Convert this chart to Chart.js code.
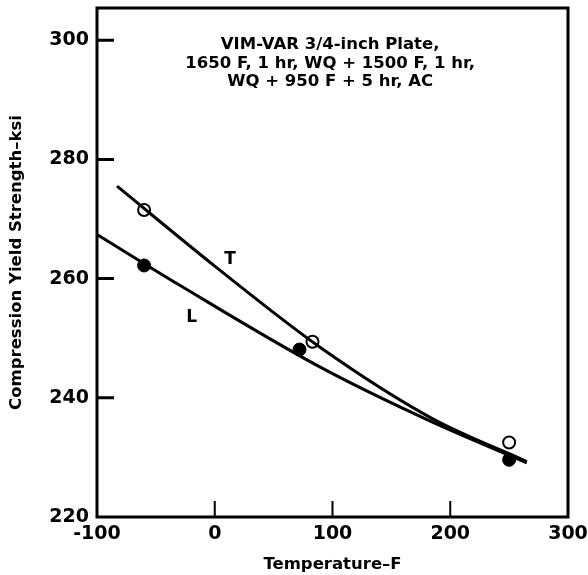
<!DOCTYPE html>
<html>
<head>
<meta charset="utf-8">
<script src="https://cdn.jsdelivr.net/npm/chart.js@4"></script>
<style>
  html, body { margin: 0; padding: 0; background: #fff; }
</style>
</head>
<body>
<canvas id="myChart" width="588" height="575"></canvas>
<script>
// tick labels
const xTicks = [-100, 0, 100, 200, 300]
const yTicks = [220, 240, 260, 280, 300]

// measured points (temperature F, ksi)
const tPointsX = [-60, 83, 250]
const tPointsY = [271.5, 249.4, 232.5]
const lPointsX = [-60, 72, 250]
const lPointsY = [262.2, 248.1, 229.6]

// faired curves
const tCurveX = [-83, 0, 90, 184, 265]
const tCurveY = [275.5, 262.1, 248.4, 236.6, 229.3]
const lCurveX = [-100, -29, 90, 184, 265]
const lCurveY = [267.4, 258.8, 245.1, 236.0, 229.1]

const titleLines = ['VIM-VAR 3/4-inch Plate,', '1650 F, 1 hr, WQ + 1500 F, 1 hr,', 'WQ + 950 F + 5 hr, AC']

const zip = (xs, ys) => xs.map((x, i) => ({ x: x, y: ys[i] }))
const FONT = '"DejaVu Sans", sans-serif'

// box + inward ticks + annotations
const decor = {
  id: 'decor',
  afterDraw(chart) {
    const { ctx, chartArea: a, scales: { x, y } } = chart
    ctx.save()
    ctx.strokeStyle = '#000'
    ctx.lineWidth = 3
    ctx.strokeRect(a.left, a.top, a.right - a.left, a.bottom - a.top)
    ctx.beginPath()
    yTicks.slice(1).forEach(v => {
      const py = y.getPixelForValue(v)
      ctx.moveTo(a.left, py)
      ctx.lineTo(a.left + 17, py)
    })
    ctx.stroke()
    ctx.lineWidth = 2
    ctx.beginPath()
    xTicks.slice(1, -1).forEach(v => {
      const px = x.getPixelForValue(v)
      ctx.moveTo(px, a.bottom)
      ctx.lineTo(px, a.bottom - 16)
    })
    ctx.stroke()

    ctx.fillStyle = '#000'
    ctx.textAlign = 'center'
    ctx.textBaseline = 'middle'
    ctx.font = 'bold 16.5px ' + FONT
    const cx = x.getPixelForValue(98)
    titleLines.forEach((s, i) => ctx.fillText(s, cx, a.top + 37 + i * 18.5))

    ctx.font = 'bold 17px ' + FONT
    ctx.fillText('T', x.getPixelForValue(13), y.getPixelForValue(263.2))
    ctx.fillText('L', x.getPixelForValue(-19.6), y.getPixelForValue(253.5))
    ctx.restore()
  }
}

const ctx = document.getElementById('myChart')

new Chart(ctx, {
  type: 'scatter',
  data: {
    datasets: [
      {
        label: 'T curve',
        data: zip(tCurveX, tCurveY),
        showLine: true,
        cubicInterpolationMode: 'monotone',
        borderColor: '#000',
        borderWidth: 3,
        pointRadius: 0
      },
      {
        label: 'L curve',
        data: zip(lCurveX, lCurveY),
        showLine: true,
        cubicInterpolationMode: 'monotone',
        borderColor: '#000',
        borderWidth: 3,
        pointRadius: 0
      },
      {
        label: 'L',
        data: zip(lPointsX, lPointsY),
        pointRadius: 6.5,
        pointBackgroundColor: '#000',
        pointBorderColor: '#000',
        pointBorderWidth: 1
      },
      {
        label: 'T',
        data: zip(tPointsX, tPointsY),
        pointRadius: 6,
        pointBackgroundColor: '#fff',
        pointBorderColor: '#000',
        pointBorderWidth: 2
      }
    ]
  },
  options: {
    responsive: false,
    animation: false,
    devicePixelRatio: 1,
    layout: { padding: { top: 8, right: 20, left: 0, bottom: 0 } },
    plugins: {
      legend: { display: false },
      tooltip: { enabled: false }
    },
    scales: {
      x: {
        type: 'linear',
        min: -100,
        max: 300,
        afterBuildTicks: s => { s.ticks = xTicks.map(v => ({ value: v })) },
        afterFit: s => { s.height = 58; s.paddingLeft = 0; s.paddingRight = 0 },
        grid: { display: false, drawTicks: false },
        border: { display: false },
        ticks: {
          color: '#000',
          padding: 6,
          maxRotation: 0,
          font: { family: FONT, size: 19, weight: 'bold' }
        },
        title: {
          display: true,
          text: 'Temperature–F',
          color: '#000',
          padding: { top: 1, bottom: 0 },
          font: { family: FONT, size: 16.5, weight: 'bold' }
        }
      },
      y: {
        type: 'linear',
        min: 220,
        max: 305.4,
        afterBuildTicks: s => { s.ticks = yTicks.map(v => ({ value: v })) },
        afterFit: s => { s.width = 97; s.paddingTop = 0; s.paddingBottom = 0 },
        grid: { display: false, drawTicks: false },
        border: { display: false },
        ticks: {
          color: '#000',
          padding: 8,
          font: { family: FONT, size: 19, weight: 'bold' }
        },
        title: {
          display: true,
          text: 'Compression Yield Strength–ksi',
          color: '#000',
          padding: { top: 7, bottom: 4 },
          font: { family: FONT, size: 16.5, weight: 'bold' }
        }
      }
    }
  },
  plugins: [decor]
})
</script>
</body>
</html>
